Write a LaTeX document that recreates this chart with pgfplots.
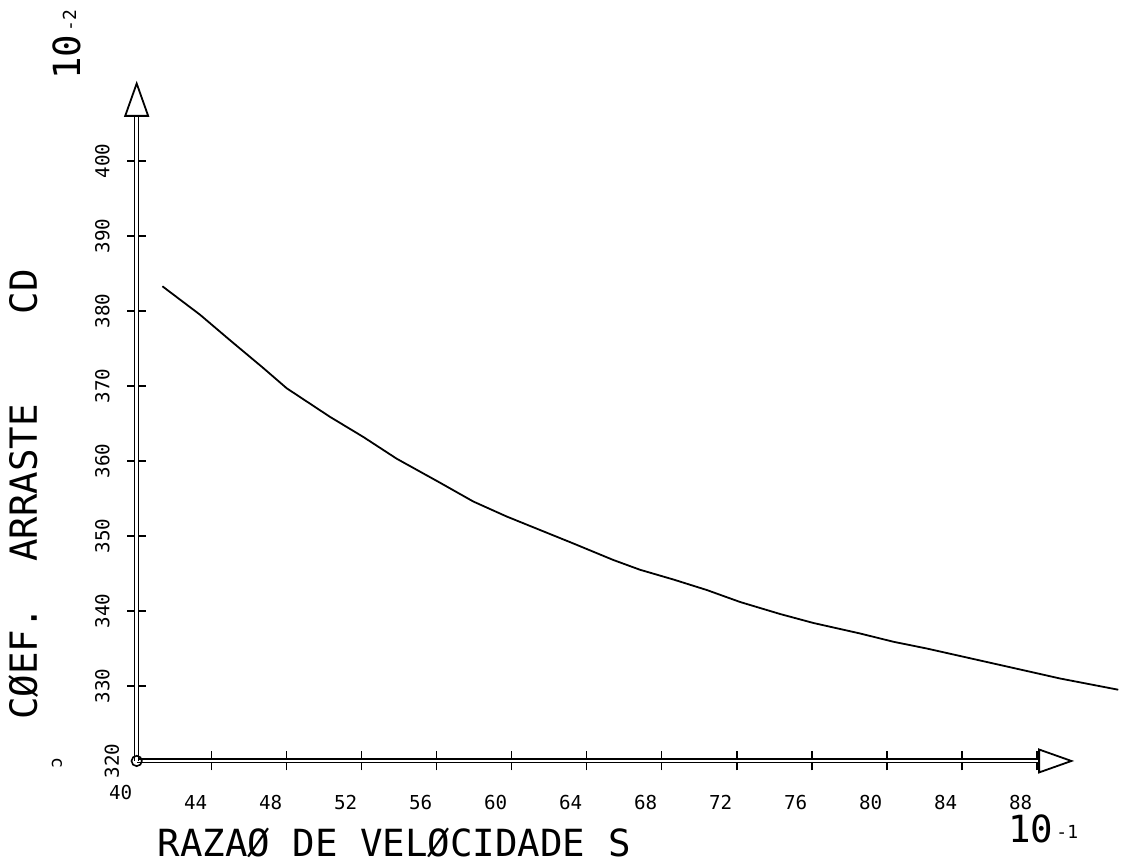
\documentclass[border=0pt]{standalone}
\usepackage{fontspec}
\usepackage{pgfplots}
\pgfplotsset{compat=1.18}
\usetikzlibrary{arrows.meta}
\newfontfamily\plotfont{DejaVu Sans Mono}
\newcommand{\bigfont}{\fontsize{18.7}{20}\selectfont\plotfont}
\newcommand{\tickfont}{\fontsize{9.6}{10}\selectfont\plotfont}
\newcommand{\expfont}{\fontsize{9}{10}\selectfont\plotfont}
\begin{document}
\begin{tikzpicture}
\begin{axis}[
  scale only axis, width=468.75pt, height=340.1pt,
  xmin=40, xmax=90, ymin=320, ymax=410.7,
  clip=false,
  axis lines=left,
  axis line style={line width=0.6pt, double distance=1.3pt, -{Triangle[open,fill=white,length=18pt,width=12.5pt,line width=0.9pt]}},
  xtick={44,48,...,88}, extra x ticks={40}, extra x tick style={major tick length=0pt},
  ytick={330,340,...,400}, extra y ticks={320}, extra y tick style={major tick length=0pt},
  tick align=center, major tick length=9.5pt, tick style={line width=0.8pt, black},
  xticklabel style={font=\tickfont, anchor=center, yshift=-16pt, xshift=-8pt},
  yticklabel style={xshift=-12.4pt, rotate=90, anchor=center, font=\tickfont},
  /pgf/number format/assume math mode=true,
]
\addplot[black, line width=0.9pt] coordinates {
(41.37,383.3) (43.38,379.5) (44.98,376.1) (46.75,372.4) (48.0,369.7)
(50.3,365.9) (52.09,363.2) (53.87,360.3) (56.18,357.1) (57.95,354.6)
(59.73,352.6) (61.51,350.8) (63.29,349.0) (65.42,346.8) (66.84,345.5)
(68.62,344.2) (70.40,342.8) (72.18,341.2) (74.31,339.6) (76.09,338.4)
(78.58,337.0) (80.35,335.9) (82.13,335.0) (83.91,334.0) (85.69,333.0)
(87.47,332.0) (89.24,331.0) (92.35,329.5)
};
\addplot[only marks, mark=o, mark size=2.6pt, mark options={line width=0.8pt, fill=white}] coordinates {(40,320)};
\coordinate (bl) at (axis cs:32.71,305.73);
\coordinate (tr) at (axis cs:92.816,421.47);
\node[anchor=base west, inner sep=0pt, font=\bigfont] at (axis cs:41.1,307.2) {RAZAØ DE VELØCIDADE S};
\node[anchor=base west, inner sep=0pt, rotate=90, font=\bigfont] at (axis cs:34.68,325.47) {CØEF.~~ARRASTE~~~~CD};
\node[anchor=base west, inner sep=0pt, rotate=90] at (axis cs:36.98,410.8) {{\bigfont 10}{\expfont\,\raisebox{2pt}{-2}}};
\node[anchor=base west, inner sep=0pt] at (axis cs:86.47,309.07) {{\bigfont 10}{\expfont\,\raisebox{2pt}{-1}}};
\node[anchor=center, inner sep=0pt, rotate=90, font=\expfont] at (axis cs:35.75,319.73) {ɔ};
\end{axis}
\pgfresetboundingbox
\path[use as bounding box] (bl) rectangle (tr);
\end{tikzpicture}
\end{document}
